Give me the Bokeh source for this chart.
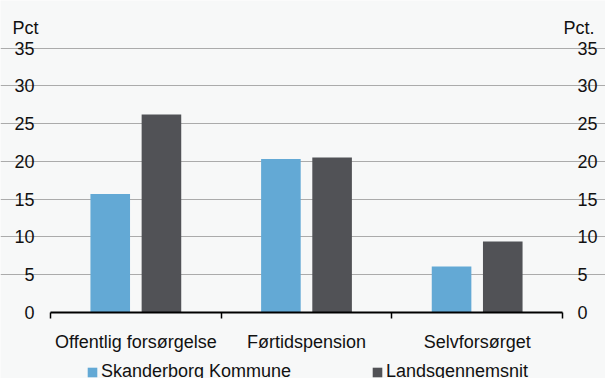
from bokeh.plotting import figure
from bokeh.models import (ColumnDataSource, Range1d, LinearAxis, FixedTicker,
                          Label, Legend, LegendItem)
from bokeh.transform import dodge
from bokeh.embed import file_html
from bokeh.resources import INLINE

categories = ["Offentlig forsørgelse", "Førtidspension", "Selvforsørget"]
skanderborg = [15.7, 20.3, 6.1]
landsgennemsnit = [26.2, 20.5, 9.4]
series_names = ["Skanderborg Kommune", "Landsgennemsnit"]
y_ticks = [0, 5, 10, 15, 20, 25, 30, 35]
y_max = 35

BG = "#F7F8F8"
BLUE = "#63A9D5"
DARK = "#515256"
FONT = "Liberation Sans"
FS = "18px"
TXT = "#111111"

n = len(categories)
centers = [i + 0.5 for i in range(n)]
src = ColumnDataSource(dict(x=centers, cat=categories, s=skanderborg, l=landsgennemsnit))

# the frame fills the whole canvas; axes are pinned at data locations
p = figure(width=605, height=378, output_backend="svg", toolbar_location=None,
           x_range=Range1d(-0.293, 3.252), y_range=Range1d(-8.73, 41.29),
           min_border=0, min_border_left=0, min_border_right=0,
           min_border_top=0, min_border_bottom=0,
           background_fill_color=BG, border_fill_color=BG, outline_line_color=None,
           y_axis_location=None, x_axis_location=None)

r1 = p.vbar(x=dodge("x", -0.15, range=p.x_range), top="s", width=0.232, source=src,
            fill_color=BLUE, line_color=None)
r2 = p.vbar(x=dodge("x", 0.15, range=p.x_range), top="l", width=0.232, source=src,
            fill_color=DARK, line_color=None)

p.xgrid.visible = False
p.ygrid.ticker = FixedTicker(ticks=y_ticks[1:])
p.ygrid.bounds = (0, n)
p.ygrid.grid_line_color = "#ABABAB"
p.ygrid.grid_line_width = 1.2

# x axis: labels at category centers, tick marks at category boundaries
xaxis = LinearAxis(ticker=FixedTicker(ticks=centers, minor_ticks=list(range(n + 1))),
                   fixed_location=0, bounds=(0, n))
xaxis.major_label_overrides = {c: name for c, name in zip(centers, categories)}
xaxis.major_tick_line_color = None
xaxis.major_tick_in = 0
xaxis.major_tick_out = 0
xaxis.minor_tick_line_color = "black"
xaxis.minor_tick_line_width = 1.5
xaxis.minor_tick_in = 0
xaxis.minor_tick_out = 6
xaxis.axis_line_color = "black"
xaxis.axis_line_width = 2
xaxis.major_label_standoff = 13
xaxis.major_label_text_font = FONT
xaxis.major_label_text_font_size = FS
xaxis.major_label_text_color = TXT
p.add_layout(xaxis, "below")

for side, loc, standoff in (("left", 0, 16), ("right", n, 15)):
    ax = LinearAxis(ticker=FixedTicker(ticks=y_ticks), fixed_location=loc, bounds=(0, y_max))
    ax.axis_line_color = None
    ax.major_tick_line_color = None
    ax.major_tick_in = 0
    ax.major_tick_out = 0
    ax.minor_tick_line_color = None
    ax.major_label_standoff = standoff
    ax.major_label_text_font = FONT
    ax.major_label_text_font_size = FS
    ax.major_label_text_color = TXT
    p.add_layout(ax, side)

p.add_layout(Label(x=-0.223, y=37.71, text="Pct", text_font=FONT, text_font_size=FS,
                   text_color=TXT, text_baseline="alphabetic", text_align="left"))
p.add_layout(Label(x=3.187, y=37.71, text="Pct.", text_font=FONT, text_font_size=FS,
                   text_color=TXT, text_baseline="alphabetic", text_align="right"))

for r, name, lx in ((r1, series_names[0], 86), (r2, series_names[1], 371)):
    leg = Legend(items=[LegendItem(label=name, renderers=[r])], location=(lx, -4),
                 orientation="horizontal", padding=0, margin=0, spacing=0,
                 glyph_width=12, glyph_height=12, label_standoff=3,
                 label_text_font=FONT, label_text_font_size=FS, label_text_color=TXT,
                 border_line_color=None, background_fill_alpha=0)
    p.add_layout(leg, "center")

html = file_html(p, INLINE)
html = html.replace("<body>", '<body style="background:%s">' % BG, 1)
open("out.html", "w").write(html)
